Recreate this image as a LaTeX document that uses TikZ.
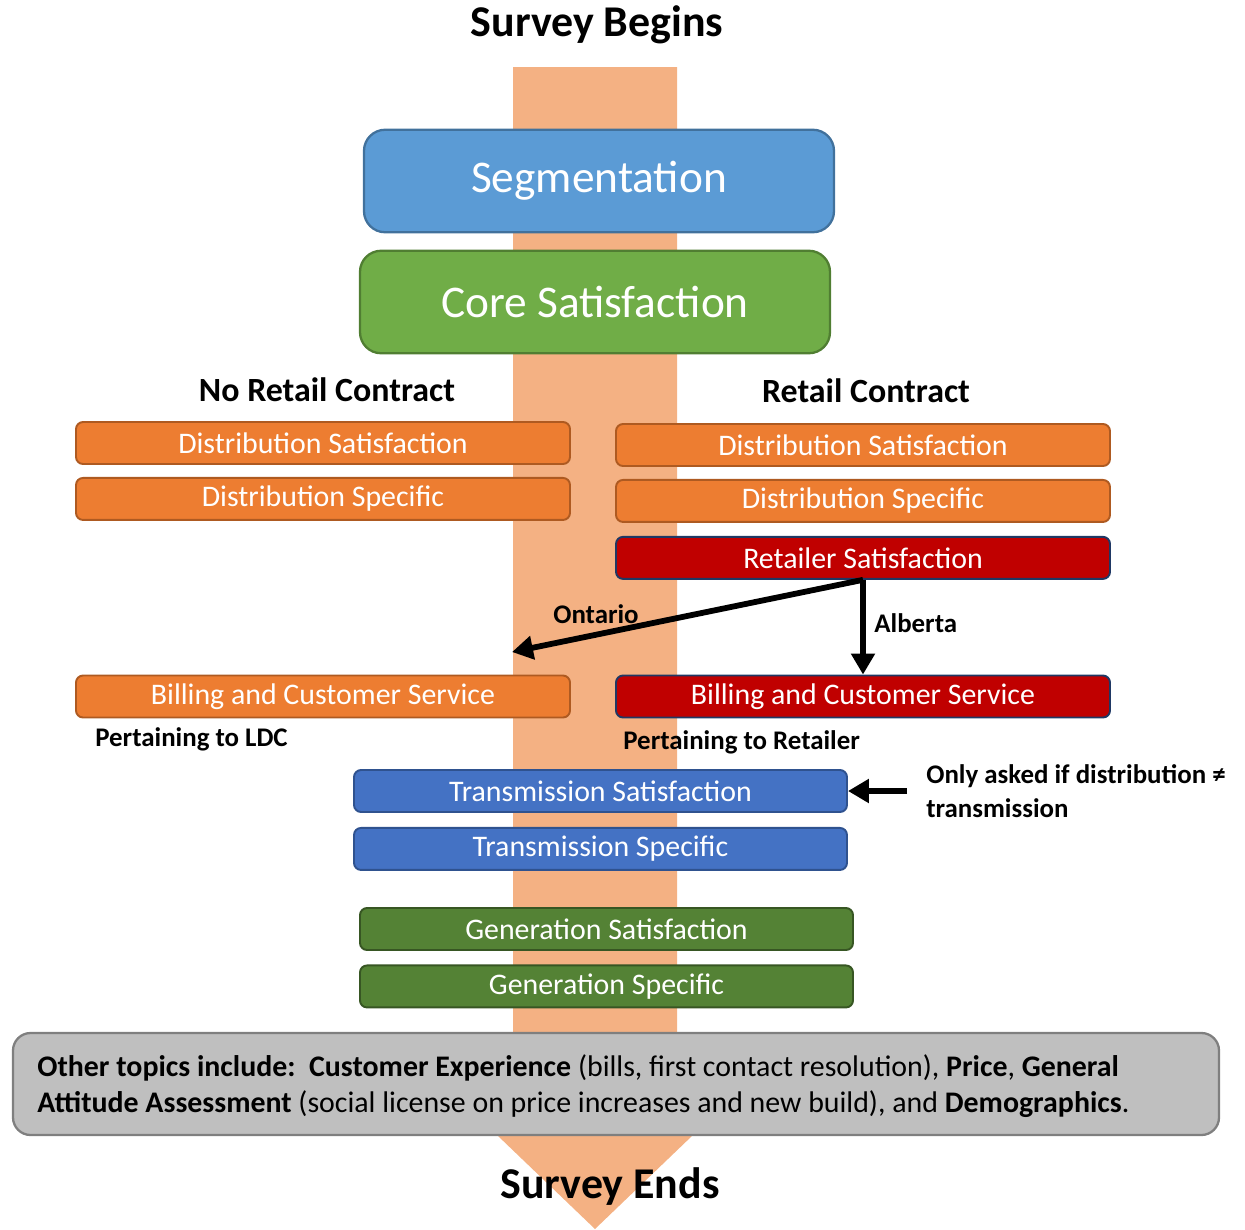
\documentclass[tikz,border=0pt]{standalone}
\usepackage{fontspec}
\setmainfont{Carlito}
\usepackage{xcolor}
\usetikzlibrary{arrows.meta,positioning,backgrounds}

\definecolor{bandcol}{HTML}{F4B183}
\definecolor{segfill}{HTML}{5B9BD5}
\definecolor{segdraw}{HTML}{41719C}
\definecolor{corefill}{HTML}{70AD47}
\definecolor{coredraw}{HTML}{507E32}
\definecolor{distfill}{HTML}{ED7D31}
\definecolor{distdraw}{HTML}{AE5A21}
\definecolor{retfill}{HTML}{C00000}
\definecolor{retdraw}{HTML}{1F3864}
\definecolor{transfill}{HTML}{4472C4}
\definecolor{transdraw}{HTML}{2F528F}
\definecolor{genfill}{HTML}{548235}
\definecolor{gendraw}{HTML}{375623}
\definecolor{notefill}{HTML}{BFBFBF}
\definecolor{notedraw}{HTML}{7F7F7F}

\begin{document}
\begin{tikzpicture}[
big/.style={draw, line width=1.3pt, rounded corners=12pt, align=center, minimum width=9.4cm, minimum height=2.05cm, text=white, font=\fontsize{25.8}{30}\selectfont},
bar/.style={draw, line width=1.1pt, rounded corners=4pt, align=center, minimum width=9.88cm, minimum height=0.84cm, inner sep=0pt, text=white, font=\fontsize{17}{20}\selectfont},
dist/.style={bar, fill=distfill, draw=distdraw},
ret/.style={bar, fill=retfill, draw=retdraw},
trans/.style={bar, fill=transfill, draw=transdraw, minimum width=9.86cm},
gen/.style={bar, fill=genfill, draw=gendraw, minimum width=9.86cm},
head/.style={font=\bfseries\fontsize{19.3}{23}\selectfont},
lbl/.style={font=\bfseries\fontsize{15.3}{19.3}\selectfont, inner sep=0pt},
title/.style={font=\bfseries\fontsize{25}{30}\selectfont},
arr/.style={-{Triangle[length=0.42cm, width=0.46cm]}, line width=3.3pt}
]
\useasboundingbox (0,0) rectangle (24.9,-24.58);

% flow band behind everything
\fill[bandcol] (10.26,-1.34) -- (13.54,-1.34) -- (13.54,-22.7) -- (13.86,-22.7)
  -- (11.9,-24.58) -- (9.94,-22.7) -- (10.26,-22.7) -- cycle;

\node[title] (begin) at (11.94,-0.5) {Survey Begins};

\node[big, fill=segfill, draw=segdraw] (seg) at (11.98,-3.62) {Segmentation};
\node[big, fill=corefill, draw=coredraw] (core) at (11.9,-6.04) {Core Satisfaction};

% two branches
\node[head] (noretail) at (6.54,-7.8) {No Retail Contract};
\node[head] (retail) at (17.32,-7.82) {Retail Contract};

\node[dist] (dsatL) at (6.46,-8.86) {Distribution Satisfaction};
\node[dist, below=0.24cm of dsatL] (dspecL) {Distribution Specific};
\node[dist] (billL) at (6.46,-13.93) {Billing and Customer Service};
\node[lbl, anchor=west] (ldc) at (1.9,-14.78) {Pertaining to LDC};

\node[dist] (dsatR) at (17.26,-8.9) {Distribution Satisfaction};
\node[dist, below=0.24cm of dsatR] (dspecR) {Distribution Specific};
\node[ret, below=0.26cm of dspecR] (retR) {Retailer Satisfaction};
\node[ret] (billR) at (17.26,-13.93) {Billing and Customer Service};
\node[lbl, anchor=west] (retailer) at (12.46,-14.84) {Pertaining to Retailer};

\coordinate (ontEnd) at (10.24,-13.04);
\draw[arr] (retR.south) -- (ontEnd);
\draw[arr] (retR.south) -- (billR.north);
\node[lbl] (ontario) at (11.92,-12.28) {Ontario};
\node[lbl, anchor=west] (alberta) at (17.48,-12.46) {Alberta};

% transmission and generation
\node[trans] (tsat) at (12.01,-15.82) {Transmission Satisfaction};
\node[trans, below=0.28cm of tsat] (tspec) {Transmission Specific};
\node[gen] (gsat) at (12.13,-18.58) {Generation Satisfaction};
\node[gen, below=0.27cm of gsat] (gspec) {Generation Specific};

\node[lbl, anchor=west, align=left] (only) at (18.52,-15.82) {Only asked if distribution ≠\\transmission};
\coordinate (onlyTail) at (18.14,-15.82);
\draw[arr] (onlyTail) -- (tsat.east);

% other topics
\node[draw=notedraw, fill=notefill, line width=1.3pt, rounded corners=10pt, minimum width=24.12cm, minimum height=2.04cm] (other) at (12.32,-21.68) {};
\node[anchor=west, align=left, inner sep=0pt, font=\fontsize{17}{20.4}\selectfont] (othertxt) at (0.74,-21.72)
  {\textbf{Other topics include:}\ \ \textbf{Customer Experience} (bills, first contact resolution), \textbf{Price}, \textbf{General}\\
   \textbf{Attitude Assessment} (social license on price increases and new build), and \textbf{Demographics}.};

\node[title] (end) at (12.2,-23.74) {Survey Ends};
\end{tikzpicture}
\end{document}
